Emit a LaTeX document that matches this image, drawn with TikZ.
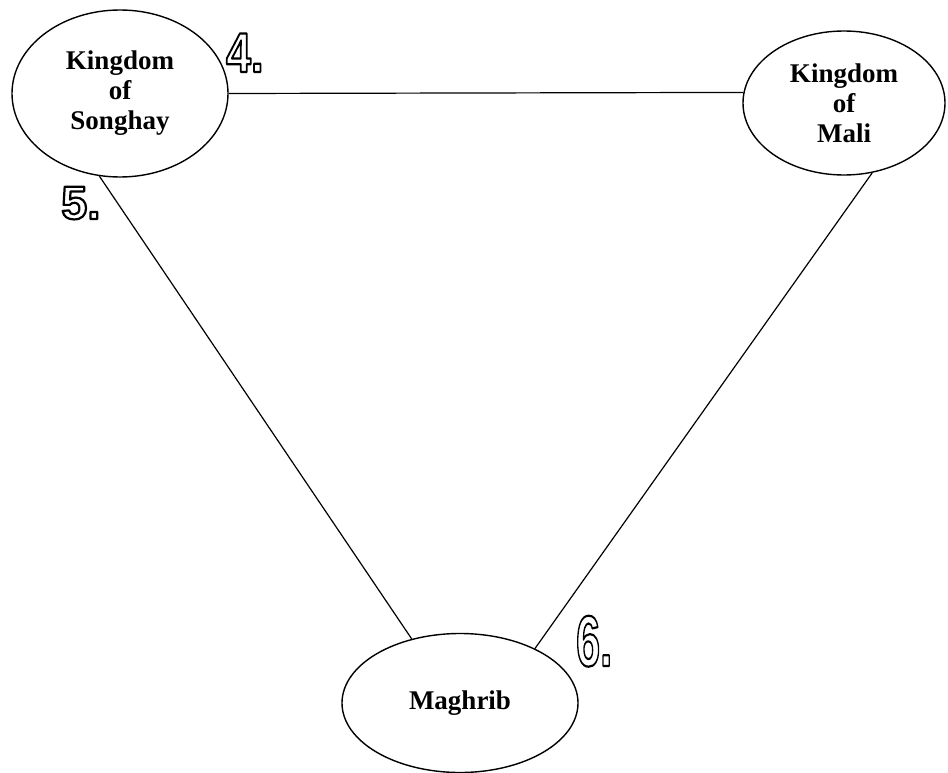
\documentclass[tikz,border=0pt]{standalone}
\usepackage{fontspec}
\setmainfont{Liberation Serif}
\newfontfamily\numfont{Liberation Sans}
\usetikzlibrary{shapes.geometric}
\newcommand{\outlinetext}[1]{\special{pdf:literal 1 Tr 2.2 w 1 j}#1\special{pdf:literal 0 Tr 0.4 w 0 j}}
\tikzset{
  place/.style={ellipse, draw=black, line width=1.4pt, inner sep=0pt, align=center,
    font=\bfseries\fontsize{27}{30}\selectfont},
  link/.style={draw=black, line width=1.2pt},
  num/.style={inner sep=0pt, anchor=base west, text=black}
}
\begin{document}
\begin{tikzpicture}[x=1pt,y=-1pt]
\useasboundingbox (0,0) rectangle (948,773);
\node[place, minimum width=216pt, minimum height=167pt] (songhay) at (120,93.5) {Kingdom\\of\\Songhay};
\node[place, minimum width=202pt, minimum height=144pt] (mali) at (844,103) {Kingdom\\of\\Mali};
\node[place, minimum width=236pt, minimum height=139pt] (maghrib) at (460,703) {Maghrib};
\draw[link] (songhay.east) -- (mali.174);
\draw[link] (songhay.256) -- (maghrib.127);
\draw[link] (mali.292) -- (maghrib.36);
\node[num, font=\numfont\bfseries\fontsize{56}{56}\selectfont, xscale=0.8] (n4) at (226,72) {\outlinetext{4.}};
\node[num, font=\numfont\bfseries\fontsize{47}{47}\selectfont, xscale=1.0] (n5) at (61,219) {\outlinetext{5.}};
\node[num, font=\numfont\bfseries\fontsize{72}{72}\selectfont, xscale=0.6] (n6) at (576,666) {\outlinetext{6.}};
\end{tikzpicture}
\end{document}
